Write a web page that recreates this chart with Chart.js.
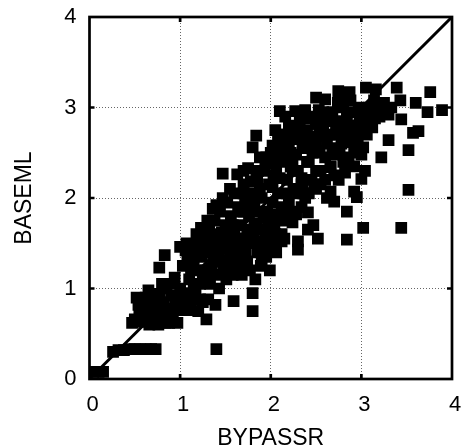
<!DOCTYPE html>
<html lang="en">
<head>
  <meta charset="UTF-8">
  <title>BYPASSR vs BASEML</title>
  <style>
    html, body { margin: 0; padding: 0; background: #fff; }
    canvas { display: block; }
  </style>
</head>
<body>
  <canvas id="scatter" width="461" height="446"></canvas>
  <script src="https://cdn.jsdelivr.net/npm/chart.js"></script>
  <script>
    // values
    const bypassr = [
      .04,.10,.15,.26,.32,.38,.44,.50,.56,.62,.68,.73,
      .47,.50,.52,.55,.54,.58,.60,.62,.63,.66,.68,.70,.72,.74,.76,.77,.78,.80,.82,.84,.77,.80,.83,.85,
      .86,.88,.90,.92,.94,.95,.97,1.0,1.0,1.02,1.03,1.05,1.06,1.08,1.10,1.12,1.13,1.15,1.17,1.18,1.20,1.20,1.22,1.24,1.25,
      1.23,1.26,1.28,1.29,1.30,1.31,1.32,1.33,1.35,1.36,1.37,1.38,1.39,1.40,1.40,1.42,1.43,1.44,1.45,1.47,1.47,1.48,1.50,1.51,1.52,1.53,1.55,1.56,1.58,1.59,1.60,1.60,1.62,
      1.63,1.64,1.65,1.66,1.68,1.70,1.71,1.72,1.74,1.75,1.76,1.77,1.78,1.80,1.80,1.80,1.81,1.83,1.84,1.85,1.85,1.86,1.88,1.89,1.90,1.90,1.92,1.93,1.95,1.96,1.98,2.0,2.0,1.97,1.99,
      2.02,2.03,2.05,2.05,2.06,2.08,2.10,2.10,2.12,2.14,2.15,2.16,2.16,2.18,2.20,2.20,2.22,2.24,2.25,2.27,2.28,2.30,2.30,2.30,2.32,2.34,2.35,2.38,2.38,2.40,2.41,2.41,2.42,2.45,2.47,2.47,2.50,2.50,2.52,2.50,
      2.53,2.55,2.58,2.60,2.60,2.62,2.66,2.65,2.68,2.70,2.70,2.72,2.745,2.78,2.80,2.80,2.84,2.84,2.85,2.87,2.88,2.90,2.92,2.95,2.92,2.96,2.97,3.0,3.0,3.02,3.02,3.04,3.05,3.05,3.08,3.12,3.16,3.18,3.20,3.22,3.25,3.28,3.30,3.30,3.33,
      3.39,3.43,3.44,3.44,3.52,3.52,3.57,3.60,3.63,3.73,3.76,3.89,
      1.15,1.25,1.35,1.45,1.50,1.55,1.62,1.68,1.72,1.78,1.84,1.88,1.94,2.0,2.06,2.12,2.18,1.12,1.30,1.42,1.58,1.66,1.74,1.82,1.92,2.02,2.10,
      .60,.72,.85,.95,1.05,1.10,1.15,1.22,1.28,1.34,1.40,1.46,1.52,1.58,1.64,1.70,1.76,1.82,1.88,1.94,2.0,2.06,2.12,2.18,2.24,2.30,2.36,2.42,2.48,2.54,2.60,2.66,2.72,2.78,2.84,2.90,2.96,
      1.70,1.78,1.86,1.94,2.02,2.10,2.18,2.26,2.34,2.42,2.50,2.58,2.66,2.74,2.82,2.90,2.98,3.06,3.14,1.02,1.16,1.30,1.44,1.56,
      1.90,2.00,2.14,2.22,2.34,2.44,2.56,2.64,2.76,2.88,
      1.98,2.04,2.08,2.12,2.16,2.20,2.24,2.24,2.28,2.30,2.34,2.38,2.40,2.44,2.46,2.50,2.50,2.54,2.56,2.60,2.62,2.62,2.66,2.68,2.72,2.75,2.76,2.80,2.82,2.86,2.90,2.92,2.95,2.98,3.02,3.10,3.15,2.55,2.42,2.30,
      2.22,2.12,2.04,1.95,1.88,2.28,2.35,1.72,1.78,1.84,1.95,1.68,1.55,1.48,1.38,1.30,1.18,1.08,1.07,1.18,1.30,1.40,1.55,1.70,.90,.65,.70,.85,1.10,1.22,1.50,1.70
    ];
    const baseml = [
      .08,.08,.08,.30,.32,.32,.33,.33,.33,.33,.33,.33,
      .62,.66,.90,.72,.82,.63,.80,.90,.68,.60,.76,.88,.65,.82,.60,.94,.72,.66,.85,.62,1.23,1.05,1.37,1.0,
      .78,.62,.92,.70,1.12,.82,.62,1.46,1.0,.76,1.25,.90,1.42,.76,1.10,.80,1.48,1.30,.95,1.20,.75,1.50,1.05,1.35,.85,
      1.67,1.55,1.20,.66,1.40,.88,1.70,1.05,1.55,1.88,1.30,1.75,.82,.33,1.15,1.60,1.0,1.85,1.45,2.0,2.27,1.25,1.70,1.10,1.95,1.50,1.35,1.80,1.15,.86,2.05,1.60,1.25,
      2.26,1.90,1.45,1.70,1.15,2.15,1.55,1.95,1.30,2.33,1.80,1.20,2.05,.95,.75,2.56,1.60,1.10,2.69,2.20,1.40,1.85,2.45,1.25,2.0,1.29,1.65,2.30,1.35,1.85,2.15,1.50,2.50,1.75,1.20,
      1.95,2.25,1.60,2.75,1.40,2.05,2.96,2.40,1.75,2.60,1.55,2.90,1.78,2.20,2.80,1.95,2.50,1.73,2.10,2.96,2.65,1.52,1.43,2.30,2.85,1.90,2.55,2.0,2.97,2.75,1.84,1.65,2.40,2.20,1.70,2.90,3.11,2.60,1.55,2.10,
      2.97,2.30,2.80,3.09,2.45,2.0,2.07,2.70,2.95,1.96,2.25,2.55,3.18,2.85,3.05,2.40,1.85,1.54,2.65,3.17,2.95,2.80,2.07,2.01,2.50,2.63,3.0,2.48,2.21,2.56,1.67,2.30,3.22,2.85,3.0,2.78,3.20,3.0,2.90,2.45,3.05,2.95,2.92,2.64,3.0,
      3.22,3.08,2.87,1.67,2.53,2.09,2.72,3.05,2.74,2.95,3.17,2.97,
      1.0,1.12,1.22,1.3,1.2,1.42,1.35,1.55,1.42,1.5,1.68,1.52,1.58,1.72,1.82,1.9,2.05,1.22,1.5,1.38,1.48,1.88,1.65,1.95,1.78,2.12,2.22,
      .72,.68,.72,.88,.85,1.28,.92,1.42,1.12,1.48,1.32,1.62,1.28,1.70,1.38,1.85,1.50,1.72,2.10,1.42,1.80,2.32,1.52,2.42,2.30,2.68,2.05,2.55,2.15,2.75,2.88,2.34,2.78,2.60,2.92,2.70,2.80,
      2.05,2.18,2.30,2.42,2.58,2.70,2.62,2.78,2.68,2.88,2.82,2.95,2.85,3.05,2.75,2.62,2.78,2.70,3.08,.92,1.05,1.18,1.30,1.40,
      1.45,1.62,1.88,2.35,2.15,2.58,2.68,2.90,3.0,3.08,
      2.38,2.50,2.68,2.48,2.70,2.58,2.38,2.72,2.48,2.78,2.22,2.62,2.40,2.68,2.50,2.30,2.82,2.50,2.90,2.20,2.60,2.90,2.35,2.48,2.70,2.20,2.50,2.62,2.28,2.45,2.62,2.35,2.75,2.90,2.72,2.90,2.88,2.15,2.05,2.05,
      1.85,1.60,1.65,1.45,1.45,1.82,2.12,2.02,1.92,2.30,2.45,1.85,1.62,1.58,1.48,1.58,1.42,1.35,1.50,1.60,1.75,1.92,2.10,2.30,1.05,.98,.72,.70,.95,.88,1.20,1.25
    ];
    const diagonal = [0, 4];
    const tickValues = [0, 1, 2, 3, 4];

    // inward ticks and the heavy frame go on top of the marks
    const framePlugin = {
      id: 'frame',
      afterDatasetsDraw(chart) {
        const { ctx, chartArea: a, scales: { x, y } } = chart;
        ctx.save();
        ctx.strokeStyle = '#000';
        ctx.lineWidth = 2.7;
        ctx.strokeRect(a.left, a.top, a.right - a.left, a.bottom - a.top);
        ctx.beginPath();
        tickValues.slice(1, -1).forEach(v => {
          const px = x.getPixelForValue(v), py = y.getPixelForValue(v);
          ctx.moveTo(px, a.bottom); ctx.lineTo(px, a.bottom - 5);
          ctx.moveTo(px, a.top); ctx.lineTo(px, a.top + 5);
          ctx.moveTo(a.left, py); ctx.lineTo(a.left + 5, py);
          ctx.moveTo(a.right, py); ctx.lineTo(a.right - 5, py);
        });
        ctx.stroke();
        ctx.restore();
      }
    };

    function axis(title, size, titlePadding, labelOffset) {
      return {
        type: 'linear',
        min: 0,
        max: 4,
        afterBuildTicks: s => { s.ticks = tickValues.map(value => ({ value })); },
        afterFit: s => {
          // let the end labels hang past the plot, as in the original
          s.paddingLeft = s.paddingRight = s.paddingTop = s.paddingBottom = 0;
          if (s.axis === 'x') s.height = size; else s.width = size;
        },
        ticks: { color: '#000', padding: 13, maxRotation: 0, labelOffset, font: { size: 22 } },
        grid: {
          drawTicks: false,
          tickLength: 0,
          color: c => (c.tick.value > 0 && c.tick.value < 4) ? '#666' : 'transparent'
        },
        border: { display: false, dash: [1, 2] },
        title: { display: true, text: title, color: '#000', font: { size: 23 }, padding: titlePadding }
      };
    }

    Chart.defaults.font.family = '"Liberation Sans", Arial, sans-serif';

    new Chart(document.getElementById('scatter'), {
      type: 'scatter',
      data: {
        datasets: [
          {
            data: bypassr.map((x, i) => ({ x, y: baseml[i] })),
            pointStyle: 'rect',
            pointRadius: 8.3,
            pointBorderWidth: 0,
            backgroundColor: '#000'
          },
          {
            data: diagonal.map(v => ({ x: v, y: v })),
            showLine: true,
            pointRadius: 0,
            borderColor: '#000',
            borderWidth: 3
          }
        ]
      },
      options: {
        responsive: false,
        animation: false,
        layout: { padding: { top: 17, right: 9, left: 0, bottom: 0 } },
        plugins: { legend: { display: false }, tooltip: { enabled: false } },
        scales: {
          x: axis('BYPASSR', 67, { top: 0, bottom: -6 }, 3),
          y: axis('BASEML', 89.5, { top: 11, bottom: 0 }, 0)
        }
      },
      plugins: [framePlugin]
    });
  </script>
</body>
</html>
